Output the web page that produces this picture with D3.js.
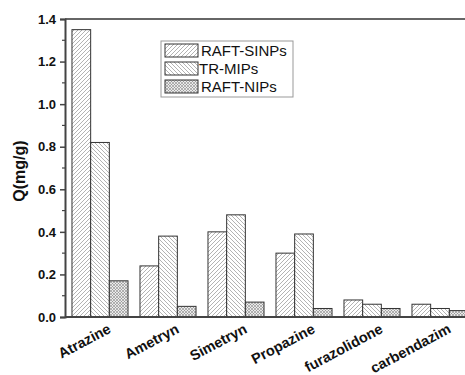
<!DOCTYPE html>
<html>
<head>
<meta charset="utf-8">
<script src="https://cdnjs.cloudflare.com/ajax/libs/d3/7.8.5/d3.min.js"></script>
<style>
  body { margin: 0; background: white; }
  text { font-family: Arial, "Liberation Sans", sans-serif; }
</style>
</head>
<body>
<svg id="chart" width="465" height="375"></svg>
<script>
  let categories = ["Atrazine", "Ametryn", "Simetryn", "Propazine", "furazolidone", "carbendazim"];
  let seriesNames = ["RAFT-SINPs", "TR-MIPs", "RAFT-NIPs"];
  let sinps = [1.35, 0.24, 0.40, 0.30, 0.08, 0.06];
  let trmips = [0.82, 0.38, 0.48, 0.39, 0.06, 0.04];
  let nips = [0.17, 0.05, 0.07, 0.04, 0.04, 0.03];
  let yTicks = [0.0, 0.2, 0.4, 0.6, 0.8, 1.0, 1.2, 1.4];

  let svg = d3.select("#chart");
  let margin = {top: 19, bottom: 58, left: 65};
  let height = 375;

  let x = d3.scaleBand().domain(categories).range([margin.left + 1, 474]).paddingInner(0.176).paddingOuter(0.088);
  let xs = d3.scaleBand().domain(seriesNames).range([0, x.bandwidth()]);
  let y = d3.scaleLinear().domain([0, 1.4]).range([height - margin.bottom, margin.top]);

  // hatch patterns
  let defs = svg.append("defs");
  let p1 = defs.append("pattern").attr("id", "hatch1").attr("patternUnits", "userSpaceOnUse").attr("width", 4).attr("height", 4);
  p1.append("rect").attr("width", 4).attr("height", 4).attr("fill", "white");
  p1.append("path").attr("d", "M0,4 L4,0 M-1,1 L1,-1 M3,5 L5,3").attr("stroke", "#a0a0a0").attr("stroke-width", 0.8);
  let p2 = defs.append("pattern").attr("id", "hatch2").attr("patternUnits", "userSpaceOnUse").attr("width", 4).attr("height", 4);
  p2.append("rect").attr("width", 4).attr("height", 4).attr("fill", "white");
  p2.append("path").attr("d", "M0,0 L4,4 M-1,3 L1,5 M3,-1 L5,1").attr("stroke", "#a0a0a0").attr("stroke-width", 0.8);
  let p3 = defs.append("pattern").attr("id", "hatch3").attr("patternUnits", "userSpaceOnUse").attr("width", 3).attr("height", 3);
  p3.append("rect").attr("width", 3).attr("height", 3).attr("fill", "#eaeaea");
  p3.append("path").attr("d", "M0,3 L3,0 M0,0 L3,3").attr("stroke", "#888").attr("stroke-width", 0.6);
  let fills = ["url(#hatch1)", "url(#hatch2)", "url(#hatch3)"];
  let series = [sinps, trmips, nips];

  // bars
  series.forEach(function(vals, si){
    svg.append("g").selectAll("rect")
      .data(vals)
      .enter()
      .append("rect")
      .attr("x", function(d, i){ return x(categories[i]) + xs(seriesNames[si]); })
      .attr("y", function(d){ return y(d); })
      .attr("width", xs.bandwidth())
      .attr("height", function(d){ return y(0) - y(d); })
      .attr("fill", fills[si])
      .attr("stroke", "#333")
      .attr("stroke-width", 1);
  });

  // frame lines
  svg.append("line").attr("x1", margin.left).attr("x2", 465).attr("y1", margin.top).attr("y2", margin.top)
    .attr("stroke", "#666").attr("stroke-width", 2);
  svg.append("line").attr("x1", margin.left).attr("x2", 465).attr("y1", y(0)).attr("y2", y(0))
    .attr("stroke", "#444").attr("stroke-width", 2);

  // y axis
  let yAxis = d3.axisLeft(y).tickValues(yTicks).tickFormat(d3.format(".1f")).tickSize(5).tickPadding(4);
  let yg = svg.append("g").attr("transform", "translate(" + margin.left + ",0)").call(yAxis);
  yg.select(".domain").attr("stroke", "#444").attr("stroke-width", 2);
  yg.selectAll(".tick line").attr("stroke", "#444").attr("stroke-width", 1.5);
  yg.selectAll("text").style("font-size", "13px").style("font-weight", "bold").attr("fill", "#111");
  let minor = yTicks.slice(0, -1).map(function(t){ return t + 0.1; });
  yg.selectAll(".minor").data(minor).enter().append("line")
    .attr("x1", -3).attr("x2", 0)
    .attr("y1", function(d){ return y(d); }).attr("y2", function(d){ return y(d); })
    .attr("stroke", "#444").attr("stroke-width", 1.2);

  svg.append("text")
    .attr("transform", "translate(25,171) rotate(-90)")
    .attr("text-anchor", "middle")
    .style("font-size", "16px").style("font-weight", "bold").attr("fill", "#111")
    .text("Q(mg/g)");

  // x labels
  svg.append("g").selectAll("text")
    .data(categories)
    .enter()
    .append("text")
    .attr("transform", function(d){ return "translate(" + (x(d) + x.bandwidth() / 2 + 12) + "," + (y(0) + 15) + ") rotate(-28)"; })
    .attr("text-anchor", "end")
    .style("font-size", "14.5px").style("font-weight", "bold").attr("fill", "#111")
    .text(function(d){ return d; });

  // legend
  let lg = svg.append("g").attr("transform", "translate(161,41)");
  lg.append("rect").attr("width", 132).attr("height", 56).attr("fill", "white").attr("stroke", "#999").attr("stroke-width", 1);
  seriesNames.forEach(function(name, i){
    lg.append("rect").attr("x", 4).attr("y", 3 + i * 18).attr("width", 33).attr("height", 13)
      .attr("fill", fills[i]).attr("stroke", "#333").attr("stroke-width", 1);
    lg.append("text").attr("x", i == 1 ? 38 : 40).attr("y", 15 + i * 18)
      .style("font-size", "15px").attr("fill", "#111").text(name);
  });
</script>
</body>
</html>
